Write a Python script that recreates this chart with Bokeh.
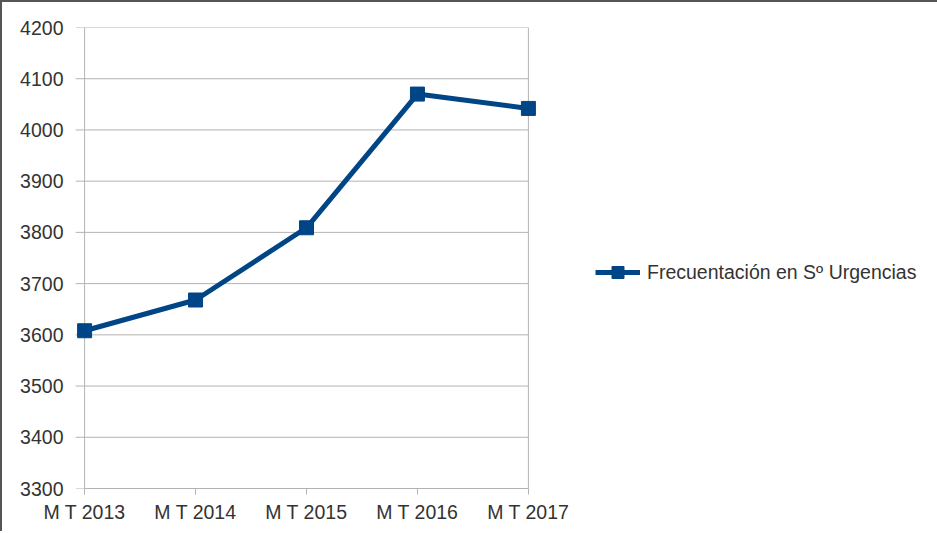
from bokeh.plotting import figure
from bokeh.models import FixedTicker, Range1d, Legend, LegendItem
from bokeh.embed import file_html
from bokeh.resources import INLINE

categories = ["M T 2013", "M T 2014", "M T 2015", "M T 2016", "M T 2017"]
values = [3608, 3668, 3809, 4070, 4042]
y_ticks = [3300, 3400, 3500, 3600, 3700, 3800, 3900, 4000, 4100, 4200]
series_name = "Frecuentación en Sº Urgencias"

xs = list(range(len(categories)))
FONT = "Liberation Sans"
FS = "19.5px"
BLUE = "#004586"
GRID = "#b3b3b3"
PAD = 0.1
last = len(categories) - 1

p = figure(frame_width=466, frame_height=461, output_backend="svg", toolbar_location=None,
           x_range=Range1d(-PAD, last + PAD), y_range=Range1d(3300, 4200),
           min_border_left=71, min_border_right=396, min_border_top=25, min_border_bottom=43,
           background_fill_color="white", border_fill_color="white",
           styles={"border": "2px solid #555555", "border-bottom": "none"})

p.outline_line_color = None

p.xaxis.ticker = FixedTicker(ticks=xs)
p.xaxis.major_label_overrides = {i: c for i, c in enumerate(categories)}
p.xaxis.bounds = (0, last)
p.yaxis.ticker = FixedTicker(ticks=y_ticks)
p.xaxis.minor_tick_line_color = None
p.yaxis.minor_tick_line_color = None
for ax in (p.xaxis, p.yaxis):
    ax.axis_line_color = GRID
    ax.major_tick_line_color = GRID
    ax.major_label_text_font = FONT
    ax.major_label_text_font_size = FS
    ax.major_label_text_color = "#333333"
p.yaxis.axis_line_color = None
p.yaxis.major_tick_line_color = None
p.yaxis.major_label_standoff = 4
p.xaxis.major_tick_out = 6
p.xaxis.major_tick_in = 0
p.xaxis.major_label_standoff = 6

p.xgrid.grid_line_color = None
p.ygrid.grid_line_color = None

# horizontal grid lines (extend slightly left of the first category like ticks)
p.segment(x0=[-0.08] * len(y_ticks), x1=[last] * len(y_ticks), y0=y_ticks, y1=y_ticks,
          line_color=GRID, line_width=1)
# vertical frame lines at first and last category
p.segment(x0=[0, last], x1=[0, last], y0=[y_ticks[0]] * 2, y1=[y_ticks[-1]] * 2,
          line_color=GRID, line_width=1)

r_line = p.line(xs, values, line_color=BLUE, line_width=5)
r_pts = p.scatter(xs, values, marker="square", size=14, fill_color=BLUE, line_color=BLUE)

legend = Legend(items=[LegendItem(label=series_name, renderers=[r_line, r_pts])],
                location=(56, 201), border_line_color=None, background_fill_alpha=0,
                label_text_font=FONT, label_text_font_size=FS, label_text_color="#333333",
                glyph_width=45, glyph_height=30, label_standoff=7, padding=0, margin=0)
p.add_layout(legend, "right")

open("out.html", "w").write(file_html(p, INLINE))
